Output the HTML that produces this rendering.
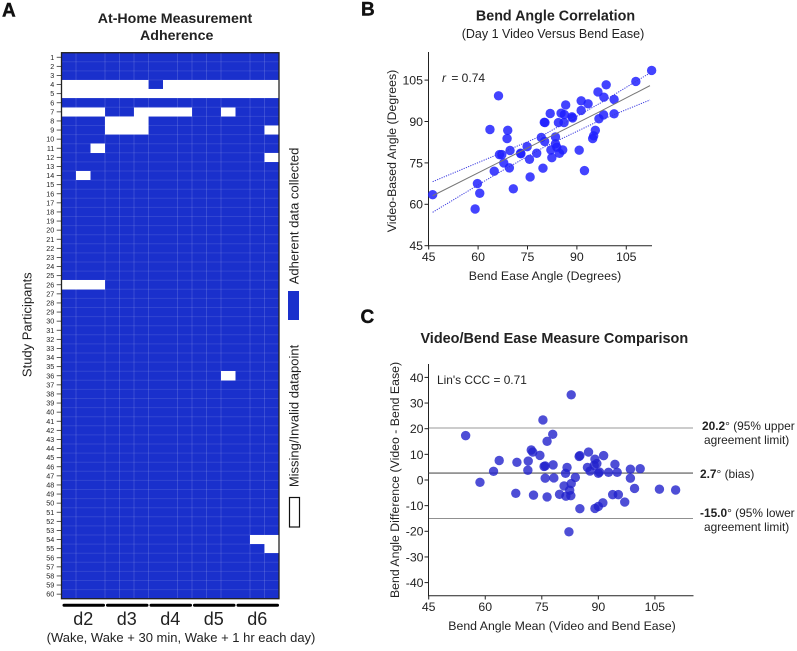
<!DOCTYPE html>
<html lang="en">
<head>
<meta charset="utf-8">
<title>Bend angle measurement figure</title>
<style>
html,body{margin:0;padding:0;background:#fff;width:797px;height:651px;overflow:hidden}
svg{display:block;font-family:"Liberation Sans",Arial,sans-serif;fill:#222}
text{fill:#222}
</style>
</head>
<body>
<svg id="fig" xmlns="http://www.w3.org/2000/svg" width="797" height="651" viewBox="0 0 797 651">
  <text x="2" y="16.7" font-size="19" font-weight="bold" style="fill:#111;stroke:#111;stroke-width:.4">A</text>
  <text x="361" y="15.7" font-size="19" font-weight="bold" style="fill:#111;stroke:#111;stroke-width:.4">B</text>
  <text x="360.5" y="323" font-size="19" font-weight="bold" style="fill:#111;stroke:#111;stroke-width:.4">C</text>

  <text x="175" y="23" font-size="14.2" font-weight="bold" text-anchor="middle">At-Home Measurement</text>
  <text x="176.7" y="40" font-size="14.2" font-weight="bold" text-anchor="middle">Adherence</text>
  <g id="heat"></g>
  <text transform="translate(31.5,324.7) rotate(-90)" font-size="13" text-anchor="middle">Study Participants</text>
  <text transform="translate(298.5,216) rotate(-90)" font-size="13" text-anchor="middle">Adherent data collected</text>
  <rect x="288" y="291" width="11" height="29" fill="#1a30cc"/>
  <text transform="translate(298.5,416) rotate(-90)" font-size="13" text-anchor="middle">Missing/Invalid datapoint</text>
  <rect x="289.5" y="497.5" width="10" height="29.5" fill="#fff" stroke="#111" stroke-width="1.2"/>
  <text x="181" y="642" font-size="13" text-anchor="middle">(Wake, Wake + 30 min, Wake + 1 hr each day)</text>

  <text x="555.5" y="20.5" font-size="14.3" font-weight="bold" text-anchor="middle">Bend Angle Correlation</text>
  <text x="553" y="38" font-size="12.5" text-anchor="middle">(Day 1 Video Versus Bend Ease)</text>
  <g id="scatter"></g>
  <text x="545" y="280" font-size="12.3" text-anchor="middle">Bend Ease Angle (Degrees)</text>
  <text transform="translate(396,151) rotate(-90)" font-size="12.3" text-anchor="middle">Video-Based Angle (Degrees)</text>
  <text x="442" y="82" font-size="12"><tspan font-style="italic">r</tspan> <tspan dx="2">= 0.74</tspan></text>

  <text x="554.3" y="343" font-size="14.45" font-weight="bold" text-anchor="middle">Video/Bend Ease Measure Comparison</text>
  <g id="ba"></g>
  <text x="562" y="630" font-size="12.3" text-anchor="middle">Bend Angle Mean (Video and Bend Ease)</text>
  <text transform="translate(399,480) rotate(-90)" font-size="12.3" text-anchor="middle">Bend Angle Difference (Video - Bend Ease)</text>
  <text x="437" y="384" font-size="11.9">Lin's CCC = 0.71</text>
  <text x="702" y="430" font-size="11.9"><tspan font-weight="bold">20.2</tspan>° (95% upper</text>
  <text x="704" y="444" font-size="11.9">agreement limit)</text>
  <text x="700" y="478" font-size="11.9"><tspan font-weight="bold">2.7</tspan>° (bias)</text>
  <text x="700" y="517" font-size="11.9"><tspan font-weight="bold">-15.0</tspan>° (95% lower</text>
  <text x="704" y="531" font-size="11.9">agreement limit)</text>
</svg>
<script>
// ---- Panel A data: 1 = adherent, 0 = missing; one string per participant ----
const heatRows = [
"111111111111111","111111111111111","111111111111111","000000100000000","000000000000000",
"111111111111111","000110000110111","111000111111111","111000111111110","111111111111111",
"110111111111111","111111111111110","111111111111111","101111111111111","111111111111111",
"111111111111111","111111111111111","111111111111111","111111111111111","111111111111111",
"111111111111111","111111111111111","111111111111111","111111111111111","111111111111111",
"000111111111111","111111111111111","111111111111111","111111111111111","111111111111111",
"111111111111111","111111111111111","111111111111111","111111111111111","111111111111111",
"111111111110111","111111111111111","111111111111111","111111111111111","111111111111111",
"111111111111111","111111111111111","111111111111111","111111111111111","111111111111111",
"111111111111111","111111111111111","111111111111111","111111111111111","111111111111111",
"111111111111111","111111111111111","111111111111111","111111111111100","111111111111110",
"111111111111111","111111111111111","111111111111111","111111111111111","111111111111111"
];
const dayLabels = ["d2","d3","d4","d5","d6"];

// ---- Panel B data ----
const bendEase = [46.2,59.1,59.8,60.5,63.6,64.9,66.2,66.5,67.2,67.8,68.8,69.0,69.5,69.7,70.7,72.9,73.0,74.9,75.6,75.8,77.8,79.2,79.7,80.1,80.3,80.2,81.9,82.4,82.1,83.5,83.5,83.9,84.7,84.4,85.2,85.7,86.1,86.2,86.6,88.5,88.7,90.7,91.3,91.3,92.3,93.4,94.8,95.1,95.6,96.4,96.7,98.1,98.2,98.9,101.3,101.3,107.9,112.7];
const videoAngle = [63.5,58.3,67.5,64.0,87.1,72.0,99.3,78.0,78.0,75.0,83.8,86.8,73.2,79.5,65.6,78.5,78.3,80.9,76.3,69.9,78.5,84.2,73.1,89.7,89.6,82.8,92.9,76.9,79.7,84.4,81.9,80.7,78.5,89.6,93.0,79.7,89.6,92.5,96.0,91.7,91.3,79.6,94.0,97.5,72.2,96.4,83.8,84.8,86.8,100.7,91.0,92.4,98.8,103.3,98.0,92.8,104.5,108.5];
const fitX = [46.2,65,80,97,112.2];
const fitY = [63.1,74.4,83.4,93.6,103.0];
const ciUpper = [68.2,77.6,85.2,96.6,107.6];
const ciLower = [57.1,70.6,80.7,90.4,97.8];
const scatterXTicks = [45,60,75,90,105];
const scatterYTicks = [45,60,75,90,105];

// ---- Panel C data ----
const meanAngle = [54.8,58.6,62.2,63.7,68.1,68.4,71.3,71.4,72.2,72.6,72.8,74.5,75.3,75.6,75.9,75.9,76.4,76.4,77.9,78.0,78.2,79.7,80.9,81.3,81.4,81.7,82.2,82.4,82.7,82.8,82.8,83.9,84.9,85.1,85.1,87.1,87.4,87.8,88.9,89.1,89.6,89.1,90.0,90.0,90.3,91.2,91.4,92.7,93.8,94.4,95.0,95.3,97.0,98.5,98.5,99.6,101.1,106.2,110.5];
const angleDiff = [17.3,-0.9,3.4,7.6,-5.2,6.9,3.8,7.4,11.7,10.9,-5.9,9.6,23.4,5.3,5.5,0.7,15.1,-6.6,17.8,5.9,0.8,-5.6,-2.3,2.6,-6.3,4.9,-20.2,-4.0,-6.1,33.2,-1.4,1.0,9.2,9.5,-11.2,4.9,10.9,3.5,5.7,8.1,6.4,-11.1,-10.3,2.6,3.1,-8.9,9.5,3.0,-5.7,6.1,3.0,-5.7,-8.6,4.2,0.7,-3.3,4.4,-3.6,-3.9];
const baXTicks = [45,60,75,90,105];
const baYTicks = [40,30,20,10,0,-10,-20,-30,-40];
const biasValue = 2.7;
const upperLimit = 20.2;
const lowerLimit = -15.0;

const NS = "http://www.w3.org/2000/svg";
function mk(parent, tag, attrs, txt){
  const e = document.createElementNS(NS, tag);
  for (const k in attrs) e.setAttribute(k, attrs[k]);
  if (txt !== undefined) e.textContent = txt;
  parent.appendChild(e);
  return e;
}

// ===== Panel A =====
(function(){
  const g = document.getElementById("heat");
  const x0 = 61.5, y0 = 52.7, cw = 14.5, rh = 9.1;
  const nC = heatRows[0].length, nR = heatRows.length;
  const cx = i => x0 + i * cw;
  const ry = r => y0 + r * rh;
  const bg = mk(g, "rect", {x:x0, y:y0, width:nC*cw, height:nR*rh, fill:"#1a30cc"});
  
  
  for (let r = 1; r < nR; r++) {
    const l = mk(g, "line", {x1:x0, x2:x0+nC*cw, y1:ry(r), y2:ry(r), stroke:"#fff", "stroke-opacity":0.1, "stroke-width":1});
    
    
  }
  for (let c = 1; c < nC; c++) {
    if (c % 5 === 2) continue;
    const l = mk(g, "line", {x1:cx(c), x2:cx(c), y1:y0, y2:y0+nR*rh, stroke:"#fff", "stroke-opacity":0.14, "stroke-width":1});
    
    
  }
  heatRows.forEach((row, r) => {
    for (let c = 0; c < nC; c++) {
      const cell = mk(g, "rect", {x:cx(c), y:ry(r), width:cw, height:rh, fill: row[c] === "1" ? "#1a30cc" : "#fff", "fill-opacity": row[c] === "1" ? 0 : 1, "shape-rendering":"crispEdges"});
      
      
    }
    const lab = mk(g, "text", {x:54.3, y:ry(r)+rh/2+2.5, "font-size":7.2, "text-anchor":"end"}, String(r+1));
    
    
    const t = mk(g, "line", {x1:56.7, x2:61, y1:ry(r)+rh/2, y2:ry(r)+rh/2, stroke:"#333", "stroke-width":0.8});
    
    
  });
  const frame = mk(g, "rect", {x:x0, y:y0, width:nC*cw, height:nR*rh, fill:"none", stroke:"#222", "stroke-width":1.3});
  
  
  dayLabels.forEach((d, i) => {
    const left = x0 + i * 3 * cw, right = left + 3 * cw;
    const bar = mk(g, "line", {x1:left+2.5, x2:right-1.5, y1:605.3, y2:605.3, stroke:"#000", "stroke-width":3, "stroke-linecap":"round"});
    
    
    const t = mk(g, "text", {x:(left+right)/2, y:625, "font-size":18, "text-anchor":"middle"}, d);
    
    
  });
})();

// ===== Panel B =====
(function(){
  const g = document.getElementById("scatter");
  const xS = v => 428.7 + (v - 45) * 3.293;
  const yS = v => 245.7 - (v - 45) * 2.76;
  const poly = (xs, ys) => xs.map((x, i) => xS(x) + "," + yS(ys[i])).join(" ");
  const ya = mk(g, "line", {x1:428.5, x2:428.5, y1:52, y2:246.2, stroke:"#222", "stroke-width":1});
  
  
  const xa = mk(g, "line", {x1:428, x2:652, y1:245.7, y2:245.7, stroke:"#222", "stroke-width":1});
  
  
  scatterXTicks.forEach(v => {
    const t = mk(g, "line", {x1:xS(v), x2:xS(v), y1:245.7, y2:249.5, stroke:"#222", "stroke-width":1});
    
    
    const l = mk(g, "text", {x:xS(v), y:261, "font-size":12.3, "text-anchor":"middle"}, String(v));
    
    
  });
  scatterYTicks.forEach(v => {
    const t = mk(g, "line", {x1:424.5, x2:428.5, y1:yS(v), y2:yS(v), stroke:"#222", "stroke-width":1});
    
    
    const l = mk(g, "text", {x:423, y:yS(v)+4.4, "font-size":12.3, "text-anchor":"end"}, String(v));
    
    
  });
  bendEase.forEach((x, i) => {
    const c = mk(g, "circle", {cx:xS(x), cy:yS(videoAngle[i]), r:4.7, fill:"#1f1fff", "fill-opacity":0.84});
    
    
  });
  const f = mk(g, "polyline", {points:poly(fitX, fitY), fill:"none", stroke:"#777", "stroke-width":1});
  
  
  const u = mk(g, "polyline", {points:poly(fitX, ciUpper), fill:"none", stroke:"#3a3ae0", "stroke-width":1, "stroke-dasharray":"1.2 1.2"});
  
  
  const d = mk(g, "polyline", {points:poly(fitX, ciLower), fill:"none", stroke:"#3a3ae0", "stroke-width":1, "stroke-dasharray":"1.2 1.2"});
  
  
})();

// ===== Panel C =====
(function(){
  const g = document.getElementById("ba");
  const xS = v => 428.7 + (v - 45) * 3.77;
  const yS = v => 480 - v * 2.565;
  const ya = mk(g, "line", {x1:428.5, x2:428.5, y1:364, y2:596, stroke:"#222", "stroke-width":1});
  
  
  const xa = mk(g, "line", {x1:428, x2:693.5, y1:595.7, y2:595.7, stroke:"#222", "stroke-width":1});
  
  
  baXTicks.forEach(v => {
    const t = mk(g, "line", {x1:xS(v), x2:xS(v), y1:595.7, y2:599.5, stroke:"#222", "stroke-width":1});
    
    
    const l = mk(g, "text", {x:xS(v), y:611, "font-size":12.3, "text-anchor":"middle"}, String(v));
    
    
  });
  baYTicks.forEach(v => {
    const t = mk(g, "line", {x1:424.5, x2:428.5, y1:yS(v), y2:yS(v), stroke:"#222", "stroke-width":1});
    
    
    const l = mk(g, "text", {x:423.5, y:yS(v)+4.4, "font-size":12.3, "text-anchor":"end"}, String(v));
    
    
  });
  const ul = mk(g, "line", {x1:428.5, x2:693, y1:yS(upperLimit), y2:yS(upperLimit), stroke:"#333", "stroke-width":1, "stroke-dasharray":"1 1", "shape-rendering":"crispEdges"});
  
  
  const ll = mk(g, "line", {x1:428.5, x2:693, y1:yS(lowerLimit), y2:yS(lowerLimit), stroke:"#222", "stroke-width":1, "stroke-dasharray":"1 1", "shape-rendering":"crispEdges"});
  
  
  const bl = mk(g, "line", {x1:428.5, x2:693, y1:yS(biasValue), y2:yS(biasValue), stroke:"#555", "stroke-width":1.2});
  
  
  meanAngle.forEach((x, i) => {
    const c = mk(g, "circle", {cx:xS(x), cy:yS(angleDiff[i]), r:4.7, fill:"#2222cc", "fill-opacity":0.8});
    
    
  });
})();
</script>
</body>
</html>
